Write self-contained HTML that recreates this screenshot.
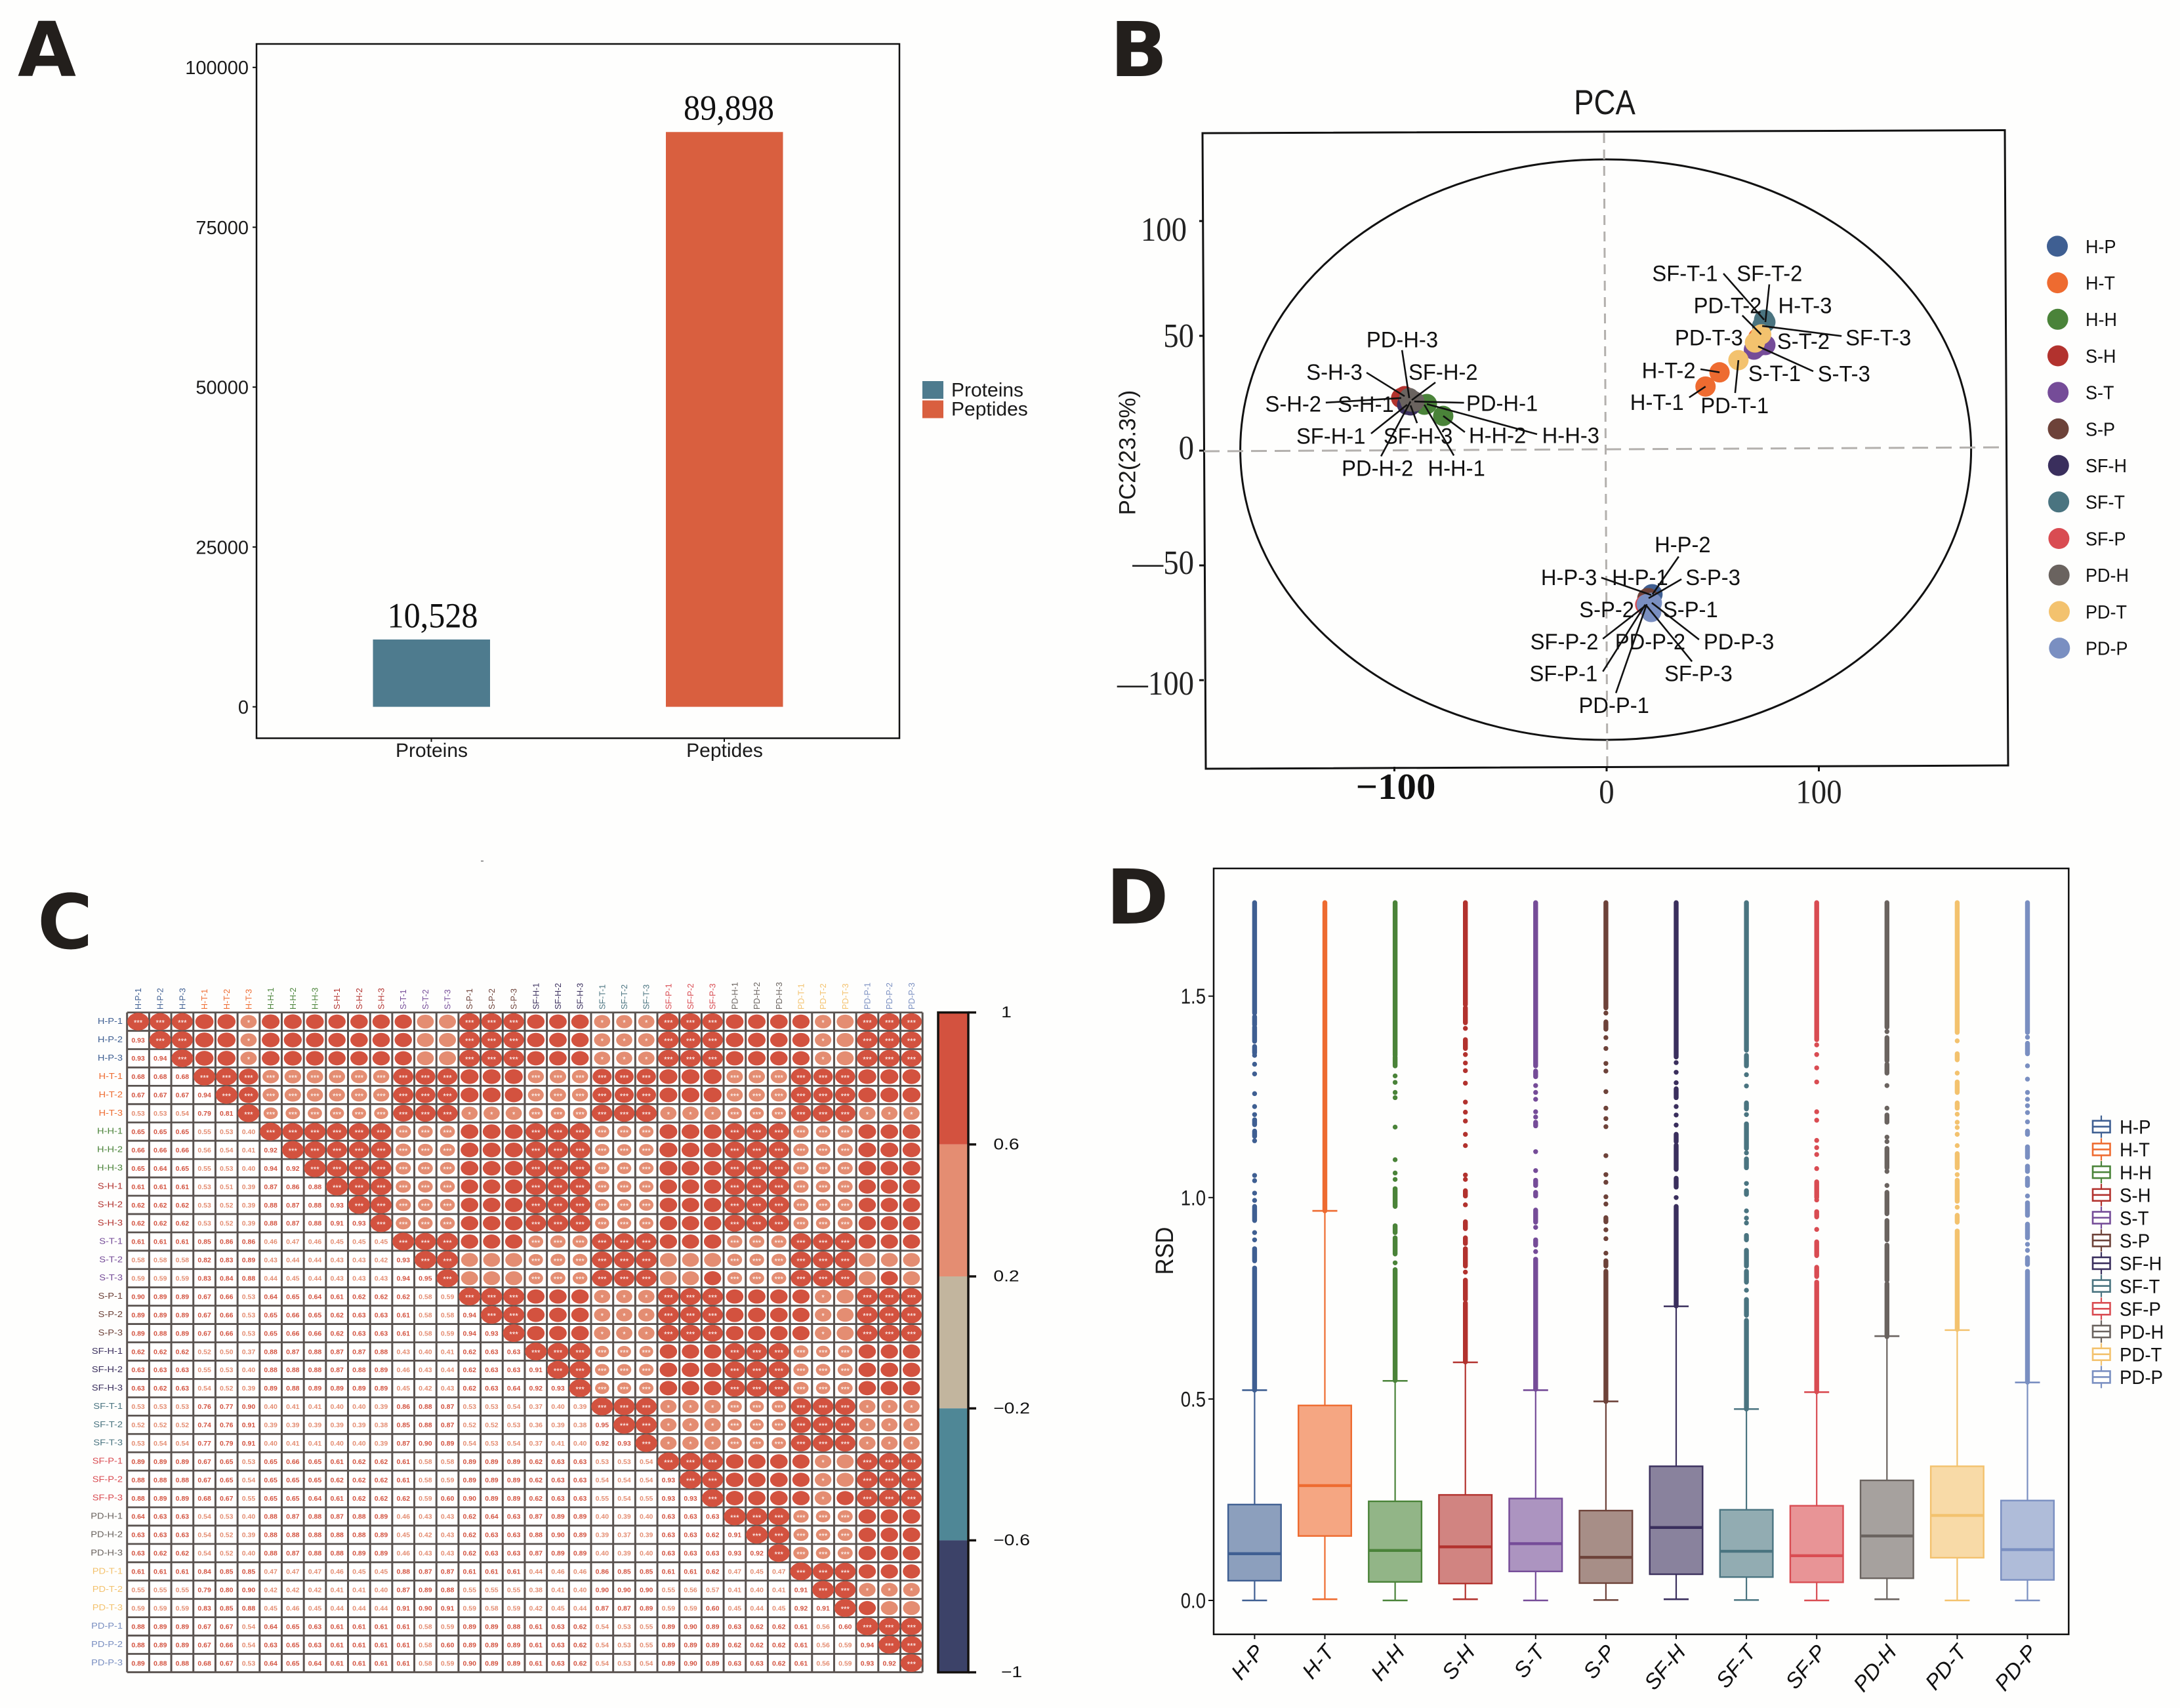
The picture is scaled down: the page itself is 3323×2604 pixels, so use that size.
<!DOCTYPE html>
<html lang="en">
<head>
<meta charset="utf-8">
<title>Proteomics overview figure</title>
<style>
html,body{margin:0;padding:0;background:#fefefd;}
svg{display:block;font-family:"Liberation Sans",Arial,sans-serif;}
.letter{font-family:"DejaVu Sans",sans-serif;font-weight:bold;font-size:115px;fill:#231f1c;}
</style>
</head>
<body>
<svg id="fig" xmlns="http://www.w3.org/2000/svg" width="3323" height="2604" viewBox="0 0 3323 2604">
  <rect x="0" y="0" width="3323" height="2604" fill="#fefefd"/>
  <text class="letter" x="27" y="116">A</text>
  <text class="letter" x="1692" y="116">B</text>
  <text class="letter" x="57" y="1446">C</text>
  <text class="letter" x="1686" y="1408">D</text>
  <g id="panelA"></g>
  <g id="panelB"></g>
  <g id="panelC"></g>
  <g id="panelD"></g>
</svg>
<script>
/* ---------- Panel A data ---------- */
var barCategories = ["Proteins", "Peptides"];
var barValues = [10528, 89898];
var barTicks = [0, 25000, 50000, 75000, 100000];
var barValueLabels = ["10,528", "89,898"];
var barColors = ["#4e7b8e", "#d95f3f"];

/* ---------- Shared group data ---------- */
var groupNames = ["H-P", "H-T", "H-H", "S-H", "S-T", "S-P", "SF-H", "SF-T", "SF-P", "PD-H", "PD-T", "PD-P"];
var groupColors = ["#3f5f92", "#ee6b30", "#4a8339", "#b2322e", "#754c98", "#6d4239", "#3a2f5d", "#4a7480", "#d94c52", "#6a635f", "#f3c26e", "#7a8fc1"];
var replicateNames = ["1", "2", "3"];

/* ---------- Panel B data (per group, three replicates) ---------- */
var pc1Values = [
  [21.3, 21.6, 21.0], [46.6, 53.2, 71.4], [-85.9, -77.0, -84.7], [-96.4, -96.8, -95.2],
  [69.4, 74.8, 71.4], [19.2, 19.5, 19.8], [-94.0, -91.8, -92.4], [74.2, 74.8, 73.3],
  [18.2, 18.5, 18.9], [-90.6, -92.4, -93.0], [62.1, 72.8, 69.9], [18.9, 21.0, 21.3]
];
var pc2Values = [
  [-62.6, -62.6, -62.9], [27.9, 34.1, 49.1], [20.0, 15.1, 20.3], [23.1, 22.9, 23.7],
  [44.0, 46.0, 45.4], [-64.3, -64.6, -64.3], [20.0, 22.0, 19.7], [57.0, 56.0, 54.3],
  [-67.1, -67.4, -67.7], [21.4, 21.4, 22.9], [39.4, 50.6, 47.1], [-66.9, -70.3, -66.3]
];
var pcaXTicks = [-100, 0, 100];
var pcaYTicks = [100, 50, 0, -50, -100];

/* ---------- Panel C data (lower triangle of correlation matrix) ---------- */
var corrLower = [
[],
[.93],
[.93,.94],
[.68,.68,.68],
[.67,.67,.67,.94],
[.53,.53,.54,.79,.81],
[.65,.65,.65,.55,.53,.40],
[.66,.66,.66,.56,.54,.41,.92],
[.65,.64,.65,.55,.53,.40,.94,.92],
[.61,.61,.61,.53,.51,.39,.87,.86,.88],
[.62,.62,.62,.53,.52,.39,.88,.87,.88,.93],
[.62,.62,.62,.53,.52,.39,.88,.87,.88,.91,.93],
[.61,.61,.61,.85,.86,.86,.46,.47,.46,.45,.45,.45],
[.58,.58,.58,.82,.83,.89,.43,.44,.44,.43,.43,.42,.93],
[.59,.59,.59,.83,.84,.88,.44,.45,.44,.43,.43,.43,.94,.95],
[.90,.89,.89,.67,.66,.53,.64,.65,.64,.61,.62,.62,.62,.58,.59],
[.89,.89,.89,.67,.66,.53,.65,.66,.65,.62,.63,.63,.61,.58,.58,.94],
[.89,.88,.89,.67,.66,.53,.65,.66,.66,.62,.63,.63,.61,.58,.59,.94,.93],
[.62,.62,.62,.52,.50,.37,.88,.87,.88,.87,.87,.88,.43,.40,.41,.62,.63,.63],
[.63,.63,.63,.55,.53,.40,.88,.88,.88,.87,.88,.89,.46,.43,.44,.62,.63,.63,.91],
[.63,.62,.63,.54,.52,.39,.89,.88,.89,.89,.89,.89,.45,.42,.43,.62,.63,.64,.92,.93],
[.53,.53,.53,.76,.77,.90,.40,.41,.41,.40,.40,.39,.86,.88,.87,.53,.53,.54,.37,.40,.39],
[.52,.52,.52,.74,.76,.91,.39,.39,.39,.39,.39,.38,.85,.88,.87,.52,.52,.53,.36,.39,.38,.95],
[.53,.54,.54,.77,.79,.91,.40,.41,.41,.40,.40,.39,.87,.90,.89,.54,.53,.54,.37,.41,.40,.92,.93],
[.89,.89,.89,.67,.65,.53,.65,.66,.65,.61,.62,.62,.61,.58,.58,.89,.89,.89,.62,.63,.63,.53,.53,.54],
[.88,.88,.88,.67,.65,.54,.65,.65,.65,.62,.62,.62,.61,.58,.59,.89,.89,.89,.62,.63,.63,.54,.54,.54,.93],
[.88,.89,.89,.68,.67,.55,.65,.65,.64,.61,.62,.62,.62,.59,.60,.90,.89,.89,.62,.63,.63,.55,.54,.55,.93,.93],
[.64,.63,.63,.54,.53,.40,.88,.87,.88,.87,.88,.89,.46,.43,.43,.62,.64,.63,.87,.89,.89,.40,.39,.40,.63,.63,.63],
[.63,.63,.63,.54,.52,.39,.88,.88,.88,.88,.88,.89,.45,.42,.43,.62,.63,.63,.88,.90,.89,.39,.37,.39,.63,.63,.62,.91],
[.63,.62,.62,.54,.52,.40,.88,.87,.88,.88,.89,.89,.46,.43,.43,.62,.63,.63,.87,.89,.89,.40,.39,.40,.63,.63,.63,.93,.92],
[.61,.61,.61,.84,.85,.85,.47,.47,.47,.46,.45,.45,.88,.87,.87,.61,.61,.61,.44,.46,.46,.86,.85,.85,.61,.61,.62,.47,.45,.47],
[.55,.55,.55,.79,.80,.90,.42,.42,.42,.41,.41,.40,.87,.89,.88,.55,.55,.55,.38,.41,.40,.90,.90,.90,.55,.56,.57,.41,.40,.41,.91],
[.59,.59,.59,.83,.85,.88,.45,.46,.45,.44,.44,.44,.91,.90,.91,.59,.58,.59,.42,.45,.44,.87,.87,.89,.59,.59,.60,.45,.44,.45,.92,.91],
[.88,.89,.89,.67,.67,.54,.64,.65,.63,.61,.61,.61,.61,.58,.59,.89,.89,.88,.61,.63,.62,.54,.53,.55,.89,.90,.89,.63,.62,.62,.61,.56,.60],
[.88,.89,.89,.67,.66,.54,.63,.65,.63,.61,.61,.61,.61,.58,.60,.89,.89,.89,.61,.63,.62,.54,.53,.55,.89,.89,.89,.62,.62,.62,.61,.56,.59,.94],
[.89,.88,.88,.68,.67,.53,.64,.65,.64,.61,.61,.61,.61,.58,.59,.90,.89,.89,.61,.63,.62,.54,.53,.54,.89,.90,.89,.63,.63,.62,.61,.56,.59,.93,.92]
];
var colorbarBreaks = [1, 0.6, 0.2, -0.2, -0.6, -1];
var colorbarLabels = ["1", "0.6", "0.2", "\u22120.2", "\u22120.6", "\u22121"];
var colorbarColors = ["#d3523f", "#e48d72", "#c2b59e", "#4f8796", "#3c4268"];

/* ---------- Panel D data ---------- */
var rsdQ1 = [.049, .160, .046, .042, .072, .043, .065, .058, .045, .055, .106, .051];
var rsdMedian = [.116, .285, .124, .133, .141, .107, .181, .122, .111, .160, .211, .126];
var rsdQ3 = [.238, .484, .246, .262, .253, .223, .333, .225, .235, .298, .333, .248];
var rsdWhiskerLow = [0, .003, 0, .003, 0, .001, .003, .001, 0, .003, 0, 0];
var rsdWhiskerHigh = [.522, .967, .545, .591, .522, .494, .730, .475, .517, .656, .671, .541];
var rsdTicks = [0, 0.5, 1.0, 1.5];
/* outliers: a number is a single dot; a pair is a dense run of overlapping dots */
var outliersHP = [[1.732,1.458],[1.449,1.429],[1.423,1.388],[1.375,1.359],1.353,1.331,1.307,1.258,1.226,1.206,[1.193,1.181],[1.165,1.152],1.141,1.055,1.042,1.011,.993,[.978,.943],.913,.895,[.873,.843],[.825,.522]];
var outliersHT = [[1.732,.967]];
var outliersHH = [[1.732,1.353],[1.349,1.327],1.302,1.286,1.261,1.248,1.175,1.094,1.061,1.045,[1.022,.978],[.930,.913],[.9,.86],.838,[.821,.546]];
var outliersSH = [[1.732,1.479],[1.471,1.434],1.42,[1.392,1.37],1.355,1.334,1.315,1.284,1.237,1.212,1.19,1.157,1.129,1.056,1.045,[1.017,1.004],.982,[.94,.923],[.9,.886],[.873,.83],.815,[.795,.747],[.738,.592]];
var outliersST = [[1.732,1.327],[1.314,1.3],1.278,1.261,1.244,1.213,1.2,[1.187,1.178],1.114,1.067,[1.043,1.03],[1.013,1.004],[.969,.939],.926,[.895,.882],.866,[.847,.524]];
var outliersSP = [[1.732,1.471],1.458,[1.436,1.418],1.397,1.37,1.333,1.314,1.263,1.222,1.196,1.176,1.104,1.057,1.038,1.002,.984,[.95,.94],.92,.898,.862,[.843,.83],[.817,.494]];
var outliersSFH = [[1.732,1.349],1.335,1.311,1.285,[1.27,1.248],1.226,1.205,1.18,[1.157,1.139],[1.13,1.07],[1.048,1.026],1.0,[.978,.731]];
var outliersSFT = [[1.732,1.366],[1.353,1.327],1.305,1.277,[1.235,1.22],1.206,[1.183,1.122],1.111,[1.096,1.074],1.035,[1.017,1.008],.967,.949,.937,[.906,.895],[.869,.83],[.817,.79],.77,[.747,.708],[.695,.475]];
var outliersSFP = [[1.732,1.392],1.379,1.355,1.322,1.287,1.213,1.192,1.142,1.124,1.107,1.072,[1.039,1.0],.994,[.965,.952],.921,[.89,.856],[.827,.804],[.79,.518]];
var outliersPDH = [[1.732,1.423],1.412,[1.397,1.34],[1.331,1.309],1.278,1.222,[1.205,1.187],1.15,1.139,[1.122,1.074],1.065,1.03,[1.013,.96],[.943,.895],[.882,.795],[.786,.655]];
var outliersPDT = [[1.732,1.41],1.389,[1.357,1.342],1.309,[1.287,1.261],[1.235,1.222],1.207,1.187,1.174,1.157,1.129,[1.109,1.074],1.057,[1.043,.991],.976,[.956,.939],[.917,.673]];
var outliersPDP = [[1.732,1.41],1.398,[1.383,1.357],1.327,1.294,1.261,1.244,1.228,1.211,1.188,[1.165,1.157],[1.126,1.1],[1.078,1.065],[1.048,1.03],1.004,[.987,.956],[.934,.9],.884,.869,[.851,.834],[.817,.542]];
var outlierSeries = [outliersHP, outliersHT, outliersHH, outliersSH, outliersST, outliersSP, outliersSFH, outliersSFT, outliersSFP, outliersPDH, outliersPDT, outliersPDP];

/* ---------- helpers ---------- */
var NS = "http://www.w3.org/2000/svg";
function mk(parent, tag, attrs) {
  var el = document.createElementNS(NS, tag);
  for (var k in attrs) el.setAttribute(k, attrs[k]);
  parent.appendChild(el);
  return el;
}
function txt(parent, s, x, cy, o) {
  o = o || {};
  var size = o.size || 30;
  var el = document.createElementNS(NS, "text");
  el.textContent = s;
  el.setAttribute("font-size", size);
  el.setAttribute("fill", o.fill || "#1a1a1a");
  el.setAttribute("text-anchor", o.anchor || "middle");
  if (o.family) el.setAttribute("font-family", o.family);
  if (o.weight) el.setAttribute("font-weight", o.weight);
  if (o.italic) el.setAttribute("font-style", "italic");
  el.setAttribute("transform", "translate(" + x + "," + cy + ") rotate(" + (o.rot || 0) + ") scale(" + (o.sx || 1) + ",1) translate(0," + (size * (o.base === undefined ? 0.36 : o.base)) + ")");
  parent.appendChild(el);
  return el;
}
var SERIF = '"Liberation Serif",serif';

/* ---------- Panel A ---------- */
function drawPanelA() {
  var g = document.getElementById("panelA");
  var yA = function (v) { return 1077.6 - v * 0.009748; };
  var xA = function (i) { return 657.5 + i * 446.5; };
  var frame = mk(g, "rect", { x: 391, y: 67, width: 980, height: 1058.5, fill: "none", stroke: "#111", "stroke-width": 2.5 });
  
  
  barTicks.forEach(function (v) {
    var tk = mk(g, "line", { x1: 385, x2: 391, y1: yA(v), y2: yA(v), stroke: "#111", "stroke-width": 2 });
    
    
    var lb = txt(g, String(v), 379, yA(v), { size: 29, anchor: "end" });
    
    
  });
  barCategories.forEach(function (name, i) {
    var bar = mk(g, "rect", { x: xA(i) - 89, y: yA(barValues[i]), width: 178.5, height: yA(0) - yA(barValues[i]), fill: barColors[i] });
    
    
    var tk = mk(g, "line", { x1: xA(i), x2: xA(i), y1: 1125.5, y2: 1131, stroke: "#111", "stroke-width": 2 });
    
    
    var lb = txt(g, name, xA(i) + 0.5, 1143, { size: 30 });
    
    
    var val = txt(g, barValueLabels[i], xA(i) + 2 + i * 5, yA(barValues[i]) - 37, { size: 54, sx: 0.93, family: SERIF, fill: "#111", base: 0.34 });
    
    
    var key = mk(g, "rect", { x: 1406, y: 581 + i * 29.5, width: 32, height: 27, fill: barColors[i] });
    
    
    var keyText = txt(g, name, 1450, 593.5 + i * 29, { size: 30, anchor: "start" });
    
    
  });
}

/* ---------- Panel B ---------- */
function drawPanelB() {
  var g = document.getElementById("panelB");
  var xB = function (v) { return 2449 + 3.235 * v; };
  var yB = function (v) { return 687 - 3.5 * v; };
  var labelLayout = {
    "H-P-1": [-18, -26.5], "H-P-2": [46, -76.7, 40, -57.6], "H-P-3": [-125.3, -27.5, -76.1, -26.5],
    "H-T-1": [-74, 23.4, -24.9, 16.6], "H-T-2": [-77.5, -3.4, -29, -4.8], "H-T-3": [71.5, -50],
    "H-H-1": [49, 96, 45, 77.5], "H-H-2": [82.7, 29, 33, 24.7], "H-H-3": [219.3, 47, 168, 46],
    "S-H-1": [-55.2, 9.2], "S-H-2": [-164.6, 8.2, -115, 7], "S-H-3": [-107, -37.6, -58, -36],
    "S-T-1": [31.4, 35.8], "S-T-2": [58, -6.4], "S-T-3": [130.8, 40.8, 84, 38],
    "S-P-1": [65.7, 16.3], "S-P-2": [-63, 15.3], "S-P-3": [98, -32.5, 50, -29],
    "SF-H-1": [-116.2, 47, -55, 44], "SF-H-2": [47.8, -43.6, 36, -27], "SF-H-3": [11.5, 46, 10, 27],
    "SF-T-1": [-120.6, -71.6, -62, -70.5], "SF-T-2": [6.3, -75.1, 6, -57.5], "SF-T-3": [177, 17, 121, 15.4],
    "SF-P-1": [-124.5, 104.3, -64.6, 102], "SF-P-2": [-124.3, 54.5, -65.6, 51], "SF-P-3": [78.8, 102.3, 69, 84.6],
    "PD-H-1": [133.7, 2.2, 75.7, 2], "PD-H-2": [-50.4, 101, -45, 83.5], "PD-H-3": [-10.7, -89.8, -11, -73],
    "PD-T-1": [-5.7, 68.6, -5, 50], "PD-T-2": [-51, -45, -28.7, -29], "PD-T-3": [-70.2, -8.2],
    "PD-P-1": [-50, 153.5, -47, 135.4], "PD-P-2": [-1.5, 44.5], "PD-P-3": [132.7, 58.5, 72, 56]
  };
  var frame = mk(g, "polygon", { points: "1833,203 3056,198.5 3061,1167 1838,1172", fill: "none", stroke: "#111", "stroke-width": 3 });
  
  
  var ring = mk(g, "ellipse", { cx: 2447.6, cy: 685.5, rx: 557, ry: 442.5, fill: "none", stroke: "#111", "stroke-width": 3 });
  
  
  var vz = mk(g, "line", { x1: 2445, y1: 203, x2: 2450, y2: 1172, stroke: "#b3b0ad", "stroke-width": 3, "stroke-dasharray": "15 10" });
  
  
  var hz = mk(g, "line", { x1: 1835, y1: 688, x2: 3056, y2: 682, stroke: "#b3b0ad", "stroke-width": 3, "stroke-dasharray": "24 12" });
  
  

  var yShift = { "100": 13, "50": 0, "0": -4, "-50": -4, "-100": 5 };
  pcaYTicks.forEach(function (v) {
    var tk = mk(g, "line", { x1: 1828, x2: 1835, y1: yB(v), y2: yB(v), stroke: "#111", "stroke-width": 3 });
    
    
    var s = v < 0 ? "\u2014" + (-v) : String(v);
    var lb = txt(g, s, v === 100 ? 1809 : 1820, yB(v) + yShift[String(v)], { size: 52, sx: 0.9, anchor: "end", family: SERIF, fill: "#222", base: 0.33 });
    
    
  });
  pcaXTicks.forEach(function (v) {
    var tk = mk(g, "line", { x1: xB(v), x2: xB(v), y1: 1169, y2: 1176, stroke: "#111", "stroke-width": 3 });
    
    
    var s = v < 0 ? "\u2212" + (-v) : String(v);
    var lb = txt(g, s, xB(v) + (v < 0 ? 2 : 0), v < 0 ? 1199.5 : 1207.5, v < 0 ? { size: 56, sx: 1.05, family: SERIF, fill: "#111", weight: "bold", base: 0.33 } : { size: 52, sx: 0.9, family: SERIF, fill: "#222", base: 0.33 });
    
    
  });
  var title = txt(g, "PCA", 2446, 155, { size: 53, sx: 0.86 });
  
  
  var yTitle = txt(g, "PC2(23.3%)", 1718, 690, { size: 35, rot: -90 });
  
  

  groupNames.forEach(function (name, gi) {
    pc1Values[gi].forEach(function (v, ri) {
      var pt = mk(g, "circle", { cx: xB(v), cy: yB(pc2Values[gi][ri]), r: 15.5, fill: groupColors[gi] });
      
      
    });
  });
  groupNames.forEach(function (name, gi) {
    pc1Values[gi].forEach(function (v, ri) {
      var label = name + "-" + replicateNames[ri];
      var px = xB(v), py = yB(pc2Values[gi][ri]);
      var lay = labelLayout[label];
      if (lay.length > 2) {
        var ld = mk(g, "line", { x1: px, y1: py, x2: px + lay[2], y2: py + lay[3], stroke: "#111", "stroke-width": 2.6 });
        
        
      }
    });
  });
  groupNames.forEach(function (name, gi) {
    pc1Values[gi].forEach(function (v, ri) {
      var label = name + "-" + replicateNames[ri];
      var lay = labelLayout[label];
      var t = txt(g, label, xB(v) + lay[0], yB(pc2Values[gi][ri]) + lay[1], { size: 34.5, sx: 0.95, fill: "#111" });
      
      
    });
    var ly = 375.4 + gi * 55.7;
    var dot = mk(g, "circle", { cx: 3136 + gi * 0.3, cy: ly, r: 16, fill: groupColors[gi] });
    
    
    var keyText = txt(g, name, 3179, ly, { size: 29, sx: 0.93, anchor: "start", fill: "#111" });
    
    
  });
}

/* ---------- Panel C ---------- */
function sampleGroup(i) { return Math.floor(i / 3); }
function sampleType(i) { return groupNames[sampleGroup(i)].slice(-1); }
function starsFor(a, b, r) {
  var ta = sampleType(a), tb = sampleType(b);
  if (ta === tb) return "***";
  if (ta !== "P" && tb !== "P") return "***";
  if ((ta === "T" || tb === "T") && r < 0.58) return "*";
  return "";
}
function drawPanelC() {
  var g = document.getElementById("panelC");
  var L = 193.7, T = 1543.6, cw = 33.68, ch = 27.94, n = 36;
  var xC = function (i) { return L + cw * (i + 0.5); };
  var yC = function (i) { return T + ch * (i + 0.5); };
  var names = [];
  groupNames.forEach(function (nm) { replicateNames.forEach(function (r) { names.push(nm + "-" + r); }); });

  var bg = mk(g, "rect", { x: L, y: T, width: cw * n, height: ch * n, fill: "#fff" });
  
  
  for (var k = 0; k <= n; k++) {
    var vl = mk(g, "line", { x1: L + cw * k, x2: L + cw * k, y1: T, y2: T + ch * n, stroke: "#5a5350", "stroke-width": 3 });
    
    
    var hl = mk(g, "line", { x1: L, x2: L + cw * n, y1: T + ch * k, y2: T + ch * k, stroke: "#5a5350", "stroke-width": 2.8 });
    
    
  }
  for (var i = 0; i < n; i++) {
    var color = groupColors[sampleGroup(i)];
    var rowLabel = txt(g, names[i], 187, yC(i) - 1, { size: 12.5, sx: 1.17, anchor: "end", fill: color });
    
    
    var colLabel = txt(g, names[i], xC(i), 1539, { size: 12.5, rot: -90, anchor: "start", fill: color });
    
    
    for (var j = 0; j < n; j++) {
      if (j < i) {
        var r = corrLower[i][j];
        var val = txt(g, r.toFixed(2), xC(j), yC(i), { size: 10.5, weight: "bold", fill: r >= 0.6 ? "#d3523f" : "#e48d72" });
        
        
      } else {
        var rv = i === j ? 1 : corrLower[j][i];
        var scale = Math.pow(rv, 0.45);
        var dot = mk(g, "ellipse", { cx: xC(j), cy: yC(i), rx: 16.5 * scale, ry: 13.5 * scale, fill: rv >= 0.6 ? "#d3523f" : "#e48d72" });
        
        
        var stars = i === j ? "***" : starsFor(i, j, rv);
        if (stars) {
          var st = txt(g, stars, xC(j), yC(i), { size: 11.5, fill: "#fff", base: 0.52 });
          
          
        }
      }
    }
  }
  /* colour bar */
  var yBar = function (v) { return T + (1 - v) / 2 * 1006; };
  colorbarColors.forEach(function (c, idx) {
    var seg = mk(g, "rect", { x: 1430, y: yBar(colorbarBreaks[idx]), width: 46, height: yBar(colorbarBreaks[idx + 1]) - yBar(colorbarBreaks[idx]), fill: c });
    
    
  });
  var cbFrame = mk(g, "rect", { x: 1430, y: T, width: 46, height: 1006, fill: "none", stroke: "#151210", "stroke-width": 3.5 });
  
  
  colorbarBreaks.forEach(function (v, idx) {
    var tk = mk(g, "line", { x1: 1476, x2: 1488, y1: yBar(v), y2: yBar(v), stroke: "#151210", "stroke-width": 3.5 });
    
    
    var lb = txt(g, colorbarLabels[idx], v < 0 ? 1542 : 1534, yBar(v) - 1, { size: 24, sx: 1.18, fill: "#111" });
    
    
  });
  var speck = mk(g, "rect", { x: 733, y: 1312, width: 4, height: 1.5, fill: "#777" });
  
  
}

/* ---------- Panel D ---------- */
function drawPanelD() {
  var g = document.getElementById("panelD");
  var xD = function (i) { return 1912.4 + i * 107.1; };
  var yD = function (v) { return 2440 - v * 614.2; };
  var frame = mk(g, "rect", { x: 1850, y: 1324, width: 1303.3, height: 1167.7, fill: "none", stroke: "#111", "stroke-width": 2.5 });
  
  
  rsdTicks.forEach(function (v) {
    var tk = mk(g, "line", { x1: 1842, x2: 1850, y1: yD(v), y2: yD(v), stroke: "#111", "stroke-width": 2 });
    
    
    var lb = txt(g, v.toFixed(1), 1838, yD(v), { size: 32, sx: 0.86, anchor: "end" });
    
    
  });
  var yTitle = txt(g, "RSD", 1774.5, 1907, { size: 38, sx: 0.91, rot: -90 });
  
  

  groupNames.forEach(function (name, i) {
    var c = groupColors[i], x = xD(i);
    outlierSeries[i].forEach(function (o) {
      var mark;
      if (typeof o === "number") {
        mark = mk(g, "circle", { cx: x, cy: yD(o), r: 3.7, fill: c });
      } else {
        mark = mk(g, "line", { x1: x, x2: x, y1: yD(o[0]), y2: yD(o[1]), stroke: c, "stroke-width": 7.4, "stroke-linecap": "round" });
      }
      
      
    });
    var wU = mk(g, "line", { x1: x, x2: x, y1: yD(rsdWhiskerHigh[i]), y2: yD(rsdQ3[i]), stroke: c, "stroke-width": 2.2 });
    
    
    var wL = mk(g, "line", { x1: x, x2: x, y1: yD(rsdQ1[i]), y2: yD(rsdWhiskerLow[i]), stroke: c, "stroke-width": 2.2 });
    
    
    var capU = mk(g, "line", { x1: x - 19, x2: x + 19, y1: yD(rsdWhiskerHigh[i]), y2: yD(rsdWhiskerHigh[i]), stroke: c, "stroke-width": 2.6 });
    
    
    var capL = mk(g, "line", { x1: x - 19, x2: x + 19, y1: yD(rsdWhiskerLow[i]), y2: yD(rsdWhiskerLow[i]), stroke: c, "stroke-width": 2.6 });
    
    
    var box = mk(g, "rect", { x: x - 40.3, y: yD(rsdQ3[i]), width: 80.6, height: yD(rsdQ1[i]) - yD(rsdQ3[i]), fill: c, "fill-opacity": 0.6, stroke: c, "stroke-width": 2.4 });
    
    
    var med = mk(g, "line", { x1: x - 40.3, x2: x + 40.3, y1: yD(rsdMedian[i]), y2: yD(rsdMedian[i]), stroke: c, "stroke-width": 4.4 });
    
    
    var tk = mk(g, "line", { x1: x, x2: x, y1: 2492, y2: 2499, stroke: "#111", "stroke-width": 2 });
    
    
    var xl = txt(g, name, x + 7, 2512, { size: 33, italic: true, anchor: "end", rot: -50, fill: "#111" });
    
    

    var ky = 1717.7 + i * 34.7;
    var stem = mk(g, "line", { x1: 3203, x2: 3203, y1: ky - 17, y2: ky + 17, stroke: c, "stroke-width": 2.2 });
    
    
    var kb = mk(g, "rect", { x: 3190, y: ky - 9, width: 26.5, height: 18, fill: "#fefefd", stroke: c, "stroke-width": 2.6 });
    
    
    var km = mk(g, "line", { x1: 3190, x2: 3216.5, y1: ky, y2: ky, stroke: c, "stroke-width": 2.6 });
    
    
    var kt = txt(g, name, 3231, ky, { size: 30, sx: 0.92, anchor: "start", fill: "#111" });
    
    
  });
}

drawPanelA();
drawPanelB();
drawPanelC();
drawPanelD();
</script>
</body>
</html>
